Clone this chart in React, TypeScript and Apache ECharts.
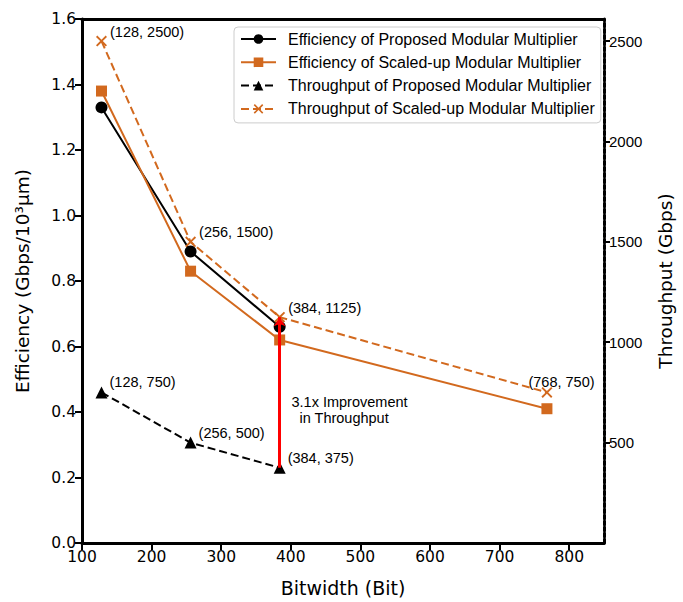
import React, { useEffect, useRef } from 'react';
import * as echarts from 'echarts';

// ---- data ----
const bitwidths = [128, 256, 384, 768];
const effProposed = [1.33, 0.89, 0.66];
const effScaled = [1.38, 0.83, 0.62, 0.41];
const thrProposed = [750, 500, 375];
const thrScaled = [2500, 1500, 1125, 750];
const xTicks = [100, 200, 300, 400, 500, 600, 700, 800];
const rightTicks = [500, 1000, 1500, 2000, 2500];
const seriesNames = [
  'Efficiency of Proposed Modular Multiplier',
  'Efficiency of Scaled-up Modular Multiplier',
  'Throughput of Proposed Modular Multiplier',
  'Throughput of Scaled-up Modular Multiplier',
];
const improvementX = 384;
const improvementFrom = 375;
const improvementTo = 1125;
const improvementLines = ['3.1x Improvement', 'in Throughput'];
const improvementTextPos = [
  [401, 703],
  [412.5, 624],
];

const ORANGE = '#D2691E';
const X_SYMBOL =
  'path://M0,1.2 L1.2,0 L5,3.8 L8.8,0 L10,1.2 L6.2,5 L10,8.8 L8.8,10 L5,6.2 L1.2,10 L0,8.8 L3.8,5 Z';
const ANN_FONT = 'Liberation Sans, Arial, sans-serif';

function zip(xs: number[], ys: number[]) {
  return ys.map((y, i) => [xs[i], y]);
}

export default function App() {
  const ref = useRef<HTMLDivElement>(null);
  useEffect(() => {
    if (!ref.current) return;
    const chart = echarts.init(ref.current, undefined, { renderer: 'svg' });
    const annLabel = {
      show: true,
      position: [14, -4] as any,
      align: 'left',
      verticalAlign: 'middle',
      fontFamily: ANN_FONT,
      fontSize: 14.5,
      color: '#000',
      formatter: (p: any) => `(${p.value[0]}, ${p.value[1]})`,
    };
    const spine = { color: '#000', width: 3 };
    const tick = { color: '#000', width: 2 };
    const option: any = {
      animation: false,
      backgroundColor: '#fff',
      textStyle: { fontFamily: 'DejaVu Sans' },
      grid: { left: 82, right: 71, top: 19, bottom: 56, containLabel: false },
      legend: {
        data: seriesNames,
        orient: 'vertical',
        left: 234,
        top: 27,
        padding: [4, 6, 6, 6],
        itemGap: 7.3,
        itemWidth: 35,
        itemHeight: 12,
        backgroundColor: 'rgba(255,255,255,0.85)',
        borderColor: '#cccccc',
        borderWidth: 1,
        borderRadius: 4,
        textStyle: {
          fontFamily: ANN_FONT,
          fontSize: 16,
          color: '#000',
          lineHeight: 16,
          padding: [0, 0, 0, 7],
        },
      },
      xAxis: [
        {
          type: 'value',
          min: 100,
          max: 850,
          position: 'bottom',
          name: 'Bitwidth (Bit)',
          nameLocation: 'middle',
          nameGap: 35,
          nameTextStyle: { fontSize: 19, color: '#000', fontFamily: 'DejaVu Sans' },
          axisLine: { show: true, onZero: false, lineStyle: spine },
          axisTick: { show: true, length: 7, lineStyle: tick, customValues: xTicks },
          axisLabel: { color: '#000', fontSize: 15.5, margin: 6, customValues: xTicks, fontFamily: 'DejaVu Sans' },
          splitLine: { show: false },
        },
        {
          type: 'value',
          min: 100,
          max: 850,
          position: 'top',
          axisLine: { show: true, onZero: false, lineStyle: spine },
          axisTick: { show: false },
          axisLabel: { show: false },
          splitLine: { show: false },
        },
      ],
      yAxis: [
        {
          type: 'value',
          min: 0,
          max: 1.6,
          interval: 0.2,
          position: 'left',
          name: 'Efficiency (Gbps/10³μm)',
          nameLocation: 'middle',
          nameGap: 50,
          nameTextStyle: { fontSize: 18.5, color: '#000', fontFamily: 'DejaVu Sans' },
          axisLine: { show: true, onZero: false, lineStyle: spine },
          axisTick: { show: true, length: 7, lineStyle: tick },
          axisLabel: {
            color: '#000',
            fontSize: 15.5,
            margin: 6,
            fontFamily: 'DejaVu Sans',
            formatter: (v: number) => v.toFixed(1),
          },
          splitLine: { show: false },
        },
        {
          type: 'value',
          min: 0,
          max: 2610,
          position: 'right',
          name: 'Throughput (Gbps)',
          nameLocation: 'middle',
          nameGap: 52,
          nameTextStyle: { fontSize: 18.5, color: '#000', fontFamily: 'DejaVu Sans' },
          axisLine: { show: true, onZero: false, lineStyle: { color: '#000', width: 3, type: [4, 2] } },
          axisTick: { show: true, length: 6, lineStyle: tick, customValues: rightTicks },
          axisLabel: {
            color: '#000',
            fontSize: 15,
            margin: 5,
            fontFamily: ANN_FONT,
            customValues: rightTicks,
            formatter: (v: number) => String(v),
          },
          splitLine: { show: false },
        },
      ],
      series: [
        {
          name: seriesNames[0],
          type: 'line',
          xAxisIndex: 0,
          yAxisIndex: 0,
          data: zip(bitwidths, effProposed),
          symbol: 'circle',
          symbolSize: 12,
          itemStyle: { color: '#000' },
          lineStyle: { color: '#000', width: 2 },
          z: 3,
        },
        {
          name: seriesNames[1],
          type: 'line',
          xAxisIndex: 0,
          yAxisIndex: 0,
          data: zip(bitwidths, effScaled),
          symbol: 'rect',
          symbolSize: 11,
          itemStyle: { color: ORANGE },
          lineStyle: { color: ORANGE, width: 2 },
          z: 3,
        },
        {
          name: seriesNames[2],
          type: 'line',
          xAxisIndex: 0,
          yAxisIndex: 1,
          data: zip(bitwidths, thrProposed),
          symbol: 'triangle',
          symbolSize: 12,
          itemStyle: { color: '#000' },
          lineStyle: { color: '#000', width: 2, type: [8, 4] },
          label: annLabel,
          z: 3,
        },
        {
          name: seriesNames[3],
          type: 'line',
          xAxisIndex: 0,
          yAxisIndex: 1,
          data: zip(bitwidths, thrScaled).map((d, i) =>
            i === 3 ? { value: d, label: { position: [-13, -5] } } : d
          ),
          symbol: X_SYMBOL,
          symbolSize: 11,
          itemStyle: { color: ORANGE },
          lineStyle: { color: ORANGE, width: 2, type: [8, 4] },
          label: annLabel,
          z: 3,
          markLine: {
            silent: true,
            symbol: ['none', 'arrow'],
            symbolSize: [9, 9],
            z: 10,
            label: { show: false },
            lineStyle: { color: '#ff0000', width: 3, type: 'solid' },
            data: [[{ coord: [improvementX, improvementFrom] }, { coord: [improvementX, improvementTo] }]],
          },
          markPoint: {
            silent: true,
            symbol: 'circle',
            symbolSize: 0,
            itemStyle: { color: 'transparent' },
            label: {
              show: true,
              position: [0, 0],
              align: 'left',
              verticalAlign: 'middle',
              fontFamily: ANN_FONT,
              fontSize: 14.5,
              color: '#000',
              formatter: (p: any) => p.name,
            },
            data: improvementLines.map((t, i) => ({ name: t, coord: improvementTextPos[i] })),
          },
        },
      ],
    };
    chart.setOption(option);
    return () => chart.dispose();
  }, []);
  return (
    <div
      ref={ref}
      style={{ position: 'fixed', left: 0, top: 0, width: 683, height: 602, background: '#fff' }}
    />
  );
}
